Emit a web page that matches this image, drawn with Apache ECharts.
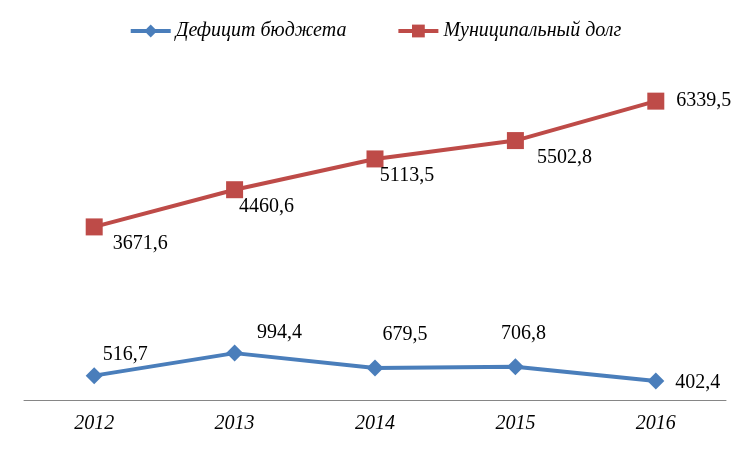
<!DOCTYPE html>
<html>
<head>
<meta charset="utf-8">
<style>
html,body{margin:0;padding:0;background:#fff;}
#main{width:750px;height:450px;}
</style>
</head>
<body>
<div id="main"></div>
<script src="https://cdn.jsdelivr.net/npm/echarts@6/dist/echarts.min.js"></script>
<script type="text/javascript">
var years = ['2012', '2013', '2014', '2015', '2016'];
var deficit = [516.7, 994.4, 679.5, 706.8, 402.4];
var debt = [3671.6, 4460.6, 5113.5, 5502.8, 6339.5];

// label shift from marker centre, px
var deficitShift = [[31, -21], [45, -20], [30, -33], [8, -33], [42, 2]];
var debtShift = [[46, 17], [32, 17], [32, 17], [49, 17], [48, 0]];

var serif = '"Liberation Serif", "Times New Roman", serif';

function withLabels(vals, shift){
    var out = [];
    for (var i = 0; i < vals.length; i++) {
        out.push({
            value: vals[i],
            label: {offset: shift[i]}
        });
    }
    return out;
}

var myChart = echarts.init(document.getElementById('main'));
var option = {
    animation: false,
    legend: {
        top: 16,
        left: 'center',
        itemWidth: 40,
        itemHeight: 16,
        itemGap: 50,
        lineStyle: {width: 4},
        textStyle: {fontFamily: serif, fontStyle: 'italic', fontSize: 20, color: '#000'},
        data: ['Дефицит бюджета', 'Муниципальный долг']
    },
    grid: {left: 24, right: 24, top: 70, bottom: 50},
    xAxis: {
        type: 'category',
        data: years,
        axisLine: {lineStyle: {color: '#868686', width: 1}},
        axisTick: {show: false},
        axisLabel: {fontFamily: serif, fontStyle: 'italic', fontSize: 20, color: '#000', margin: 14}
    },
    yAxis: {
        type: 'value',
        min: 0,
        max: 7000,
        show: false,
        splitLine: {show: false}
    },
    series: [
        {
            name: 'Дефицит бюджета',
            type: 'line',
            data: withLabels(deficit, deficitShift),
            symbol: 'diamond',
            symbolSize: 17,
            itemStyle: {color: '#4A7EBB'},
            lineStyle: {color: '#4A7EBB', width: 4},
            label: {
                show: true,
                position: 'inside',
                color: '#000',
                fontFamily: serif,
                fontSize: 20,
                formatter: function(p){ return String(p.value).replace('.', ','); }
            }
        },
        {
            name: 'Муниципальный долг',
            type: 'line',
            data: withLabels(debt, debtShift),
            symbol: 'rect',
            symbolSize: 17,
            itemStyle: {color: '#BE4B48'},
            lineStyle: {color: '#BE4B48', width: 4},
            label: {
                show: true,
                position: 'inside',
                color: '#000',
                fontFamily: serif,
                fontSize: 20,
                formatter: function(p){ return String(p.value).replace('.', ','); }
            }
        }
    ]
};
myChart.setOption(option);
</script>
</body>
</html>
